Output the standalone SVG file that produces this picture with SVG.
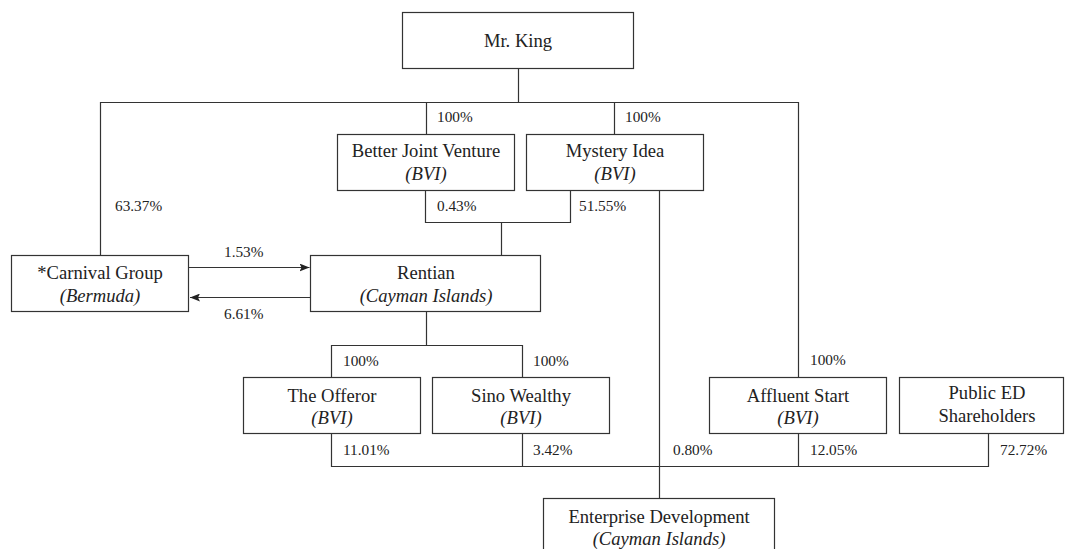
<svg xmlns="http://www.w3.org/2000/svg" width="1065" height="549" viewBox="0 0 1065 549">
<style>
.box{fill:#fff;stroke:#333;stroke-width:1.2}
.t{font-family:"Liberation Serif","Times New Roman",serif;font-size:18.6px;fill:#222;text-anchor:middle}
.i{font-style:italic}
.p{font-family:"Liberation Serif","Times New Roman",serif;font-size:15.3px;fill:#222}
.c{fill:none;stroke:#333;stroke-width:1.2}
</style>
<defs>
<marker id="ah" viewBox="0 0 10 8" refX="10" refY="4" markerWidth="10" markerHeight="8" markerUnits="userSpaceOnUse" orient="auto">
<path d="M0,0 L10,4 L0,8 L2,4 Z" fill="#222"/>
</marker>
</defs>
<rect width="1065" height="549" fill="#fff"/>
<g id="connectors">
<path class="c" d="M518.5,68.5 V102.5 M100.5,255.5 V102.5 H798.5 V377.5 M426.5,102.5 V134.5 M614.5,102.5 V134.5"/>
<path class="c" d="M425.5,190.5 V222.5 H570.5 V190.5 M501.5,222.5 V255.5"/>
<path class="c" d="M659.5,190.5 V498.5"/>
<path class="c" d="M426.5,311.5 V345.5 M331.5,377.5 V345.5 H522.5 V377.5"/>
<path class="c" d="M331.5,433.5 V466.5 H988.5 V433.5 M522.5,433.5 V466.5 M798.5,433.5 V466.5"/>
<line class="c" x1="188.5" y1="267.5" x2="309.5" y2="267.5" marker-end="url(#ah)"/>
<line class="c" x1="310.5" y1="297.5" x2="190" y2="297.5" marker-end="url(#ah)"/>
<text class="p" x="437" y="122">100%</text>
<text class="p" x="625" y="122">100%</text>
<text class="p" x="115" y="211">63.37%</text>
<text class="p" x="437" y="211">0.43%</text>
<text class="p" x="579" y="211">51.55%</text>
<text class="p" x="224" y="257">1.53%</text>
<text class="p" x="224" y="319">6.61%</text>
<text class="p" x="343" y="366">100%</text>
<text class="p" x="533" y="366">100%</text>
<text class="p" x="810" y="365">100%</text>
<text class="p" x="343" y="455">11.01%</text>
<text class="p" x="533" y="455">3.42%</text>
<text class="p" x="673" y="455">0.80%</text>
<text class="p" x="810" y="455">12.05%</text>
<text class="p" x="1000" y="455">72.72%</text>
</g>
<g id="mr-king">
<rect class="box" x="402.5" y="12.5" width="231" height="56"/>
<text class="t" x="518" y="47">Mr. King</text>
</g>
<g id="better-joint-venture">
<rect class="box" x="337.5" y="134.5" width="177" height="56"/>
<text class="t" x="426" y="157">Better Joint Venture</text>
<text class="t i" x="426" y="180">(BVI)</text>
</g>
<g id="mystery-idea">
<rect class="box" x="526.5" y="134.5" width="177" height="56"/>
<text class="t" x="615" y="157">Mystery Idea</text>
<text class="t i" x="615" y="180">(BVI)</text>
</g>
<g id="carnival-group">
<rect class="box" x="11.5" y="255.5" width="177" height="56"/>
<text class="t" x="100" y="279">*Carnival Group</text>
<text class="t i" x="100" y="302">(Bermuda)</text>
</g>
<g id="rentian">
<rect class="box" x="310.5" y="255.5" width="230" height="56"/>
<text class="t" x="426" y="279">Rentian</text>
<text class="t i" x="426" y="302">(Cayman Islands)</text>
</g>
<g id="the-offeror">
<rect class="box" x="243.5" y="377.5" width="177" height="56"/>
<text class="t" x="332" y="402">The Offeror</text>
<text class="t i" x="332" y="424">(BVI)</text>
</g>
<g id="sino-wealthy">
<rect class="box" x="432.5" y="377.5" width="177" height="56"/>
<text class="t" x="521" y="402">Sino Wealthy</text>
<text class="t i" x="521" y="424">(BVI)</text>
</g>
<g id="affluent-start">
<rect class="box" x="709.5" y="377.5" width="177" height="56"/>
<text class="t" x="798" y="402">Affluent Start</text>
<text class="t i" x="798" y="424">(BVI)</text>
</g>
<g id="public-ed-shareholders">
<rect class="box" x="899.5" y="377.5" width="164" height="56"/>
<text class="t" x="987" y="399">Public ED</text>
<text class="t" x="987" y="422">Shareholders</text>
</g>
<g id="enterprise-development">
<rect class="box" x="543.5" y="498.5" width="231" height="60"/>
<text class="t" x="659" y="523">Enterprise Development</text>
<text class="t i" x="659" y="545">(Cayman Islands)</text>
</g>
</svg>
